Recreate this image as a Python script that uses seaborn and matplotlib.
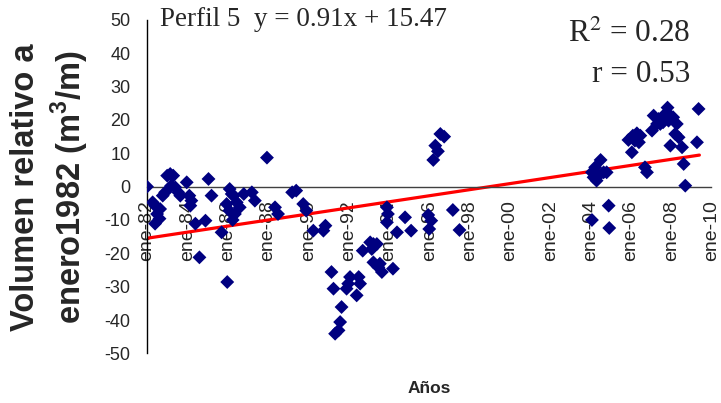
import matplotlib
matplotlib.use("Agg")
import matplotlib.pyplot as plt
import seaborn as sns
import numpy as np
import pandas as pd

# ---- data (decimal year, relative volume m3/m) ----
years = [1982.00, 1982.28, 1982.40, 1982.65, 1982.50, 1982.40, 1982.62, 1982.78, 1982.90,
         1983.00, 1983.15, 1983.30, 1983.20, 1983.40, 1983.55, 1983.65, 1983.97, 1984.10,
         1984.20, 1984.15, 1984.40, 1984.90, 1985.05, 1985.20, 1984.60, 1985.98, 1986.10,
         1985.95, 1986.08, 1985.70, 1986.20, 1986.30, 1986.45, 1986.80, 1987.20, 1987.35,
         1986.60, 1986.36, 1986.25, 1987.95, 1988.35, 1988.50, 1989.20, 1989.40, 1989.75,
         1989.90, 1990.25, 1990.75, 1990.85, 1991.15, 1991.25, 1991.65, 1991.58, 1991.50,
         1991.33, 1991.90, 1992.07, 1991.98, 1992.50, 1992.57, 1992.40, 1992.70, 1993.07,
         1993.23, 1993.15, 1993.40, 1993.23, 1993.48, 1993.65, 1993.55, 1993.90, 1993.90,
         1993.95, 1994.20, 1994.40, 1994.80, 1995.10, 1996.55, 1996.74, 1996.30, 1996.43,
         1996.20, 1995.95, 1996.10, 1996.00, 1997.17, 1997.50, 2004.23, 2004.50, 2004.15,
         2004.30, 2004.40, 2004.65, 2004.80, 2004.07, 2004.90, 2004.93, 2004.07, 2006.05,
         2005.88, 2006.10, 2006.30, 2006.47, 2006.40, 2006.20, 2006.70, 2006.80, 2007.05,
         2007.13, 2007.30, 2007.46, 2007.38, 2007.60, 2007.82, 2007.70, 2007.96, 2008.10,
         2008.28, 2007.87, 2008.20, 2008.37, 2007.96, 2008.54, 2008.62, 2008.70, 2009.28,
         2009.36]
volumes = [0.0, -4.7, -5.7, -6.7, -8.2, -11.1, -9.6, -2.7, -1.7,
           3.3, 3.8, 3.3, 0.3, -0.2, -1.7, -2.7, 1.3, -2.7,
           -4.2, -5.7, -11.1, -10.2, 2.3, -2.7, -21.2, -28.6, -0.7,
           -5.2, -7.2, -13.7, -2.2, -2.7, -4.7, -2.2, -1.7, -4.2,
           -6.2, -8.2, -10.0, 8.7, -6.2, -8.2, -1.7, -1.2, -5.2,
           -7.2, -13.2, -13.2, -11.7, -25.6, -30.6, -36.1, -40.6, -43.1,
           -44.1, -30.6, -27.1, -29.1, -27.1, -29.1, -32.6, -19.2, -16.7,
           -17.2, -18.7, -17.2, -22.7, -24.2, -25.6, -23.1, -6.2, -10.7,
           -8.2, -24.6, -13.7, -9.2, -13.2, 15.8, 15.0, 12.3, 10.6,
           8.0, -8.5, -10.2, -12.7, -7.0, -13.0, 5.8, 8.0, 2.8,
           1.8, 3.3, 4.3, 4.3, 4.3, -5.7, -12.4, -10.0, 10.3,
           14.0, 15.3, 16.0, 15.3, 13.3, 13.8, 5.8, 4.3, 16.8,
           21.3, 18.8, 18.8, 20.3, 19.3, 23.7, 21.8, 21.3, 20.8,
           18.8, 19.8, 15.8, 14.8, 12.3, 11.8, 6.8, 0.3, 13.3,
           23.3]

# linear fit shown on the chart (x measured in years from the origin year)
fit_slope = 0.91
fit_intercept = 15.47
fit_origin_year = 2016
fit_x_range = [1982.0, 2009.4]

tick_years = list(range(1982, 2011, 2))
tick_labels = ["ene-82", "ene-84", "ene-86", "ene-88", "ene-90", "ene-92", "ene-94",
               "ene-96", "ene-98", "ene-00", "ene-02", "ene-04", "ene-06", "ene-08", "ene-10"]
y_ticks = list(range(-50, 51, 10))

df = pd.DataFrame({"year": years, "vol": volumes})
fit_df = pd.DataFrame({"year": fit_x_range})
fit_df["vol"] = fit_slope * (fit_df["year"] - fit_origin_year) + fit_intercept

sns.set_style("white")
plt.rcParams["font.family"] = ["Liberation Sans", "DejaVu Sans"]
plt.rcParams["mathtext.fontset"] = "custom"
plt.rcParams["mathtext.rm"] = "Liberation Sans"
plt.rcParams["mathtext.bf"] = "Liberation Sans:bold"

fig = plt.figure(figsize=(7.21, 4.03), dpi=100)
ax = fig.add_axes([0.2039, 0.1231, 0.7829, 0.8275])

sns.lineplot(data=fit_df, x="year", y="vol", ax=ax, color="#ff0000", linewidth=2.3, zorder=2)
sns.scatterplot(data=df, x="year", y="vol", ax=ax, marker="D", s=50, color="#000080",
                edgecolor="none", linewidth=0, zorder=3)

ax.spines["top"].set_visible(False)
ax.spines["right"].set_visible(False)
ax.spines["bottom"].set_position(("data", 0))
ax.spines["bottom"].set_color("#404040")
ax.spines["left"].set_color("#000000")
ax.spines["bottom"].set_linewidth(1.0)
ax.spines["left"].set_linewidth(1.0)

ax.set_xlim(1982, 2010)
ax.set_ylim(-50, 50)
ax.set_xticks(tick_years)
ax.set_xticklabels(tick_labels, rotation=90, fontsize=14)
ax.set_yticks(y_ticks)
ax.set_yticklabels([str(v) for v in y_ticks], fontsize=13)
ax.tick_params(axis="x", direction="out", length=4.5, width=1.0, color="#404040", pad=5,
               labelrotation=90, labelsize=14)
ax.tick_params(axis="y", direction="out", length=4, width=1.0, color="#000000", pad=8,
               labelsize=13)

ax.set_xlabel("")
ax.set_ylabel("")
fig.text(0.070, 0.535, "Volumen relativo a\nenero1982 (m$^\\mathbf{3}$/m)", rotation=90,
         ha="center", va="center", fontsize=23.5, fontweight="bold", linespacing=1.25,
         math_fontfamily="custom")
fig.text(0.596, 0.037, "Años", ha="center", va="center", fontsize=12.5, fontweight="bold")

fig.text(160 / 721, 1 - 7 / 403, "Perfil 5  y = 0.91x + 15.47", ha="left", va="top",
         fontsize=19.5, family="Liberation Serif", math_fontfamily="stix")
fig.text(690 / 721, 1 - 20 / 403, "R$^2$ = 0.28", ha="right", va="top",
         fontsize=22.5, family="Liberation Serif", math_fontfamily="stix")
fig.text(690 / 721, 1 - 60 / 403, "r = 0.53", ha="right", va="top",
         fontsize=22.5, family="Liberation Serif", math_fontfamily="stix")

fig.savefig("out.png", dpi=100)
